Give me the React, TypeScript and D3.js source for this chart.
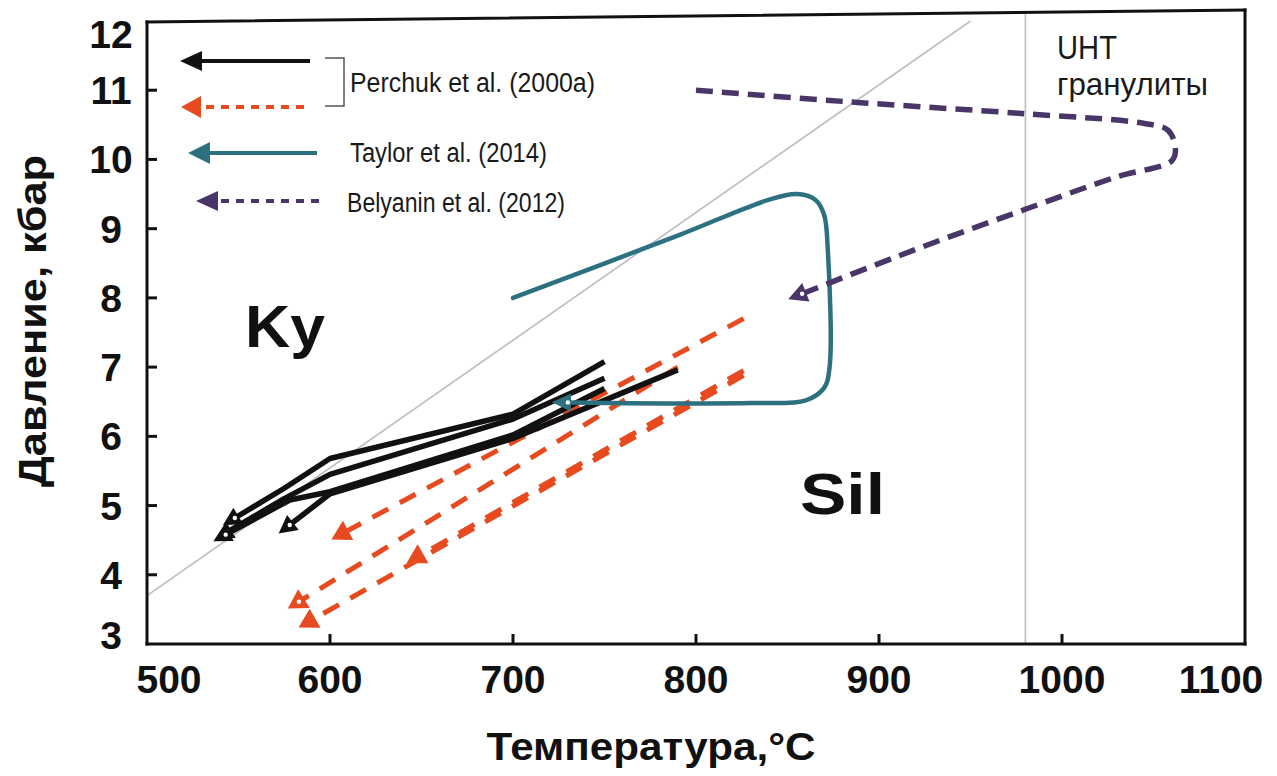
import React from "react";
import * as d3 from "d3";

type Pt = [number, number];

// axis ticks
const tempTicks = [500, 600, 700, 800, 900, 1000, 1100];
const pressureTicks = [3, 4, 5, 6, 7, 8, 9, 10, 11, 12];

// Perchuk et al. (2000a), solid black P-T paths (tail -> arrow end), [T °C, P kbar]
const perchukSolid: Pt[][] = [
  [[750, 7.08], [700, 6.32], [600, 5.68], [575, 5.25], [548, 4.82]],
  [[750, 6.84], [700, 6.25], [600, 5.45], [575, 5.1], [544, 4.62]],
  [[750, 6.69], [700, 6.02], [600, 5.2], [578, 5.08], [543, 4.58]],
  [[790, 6.96], [700, 5.97], [600, 5.17], [578, 4.72]],
];

// Perchuk et al. (2000a), dashed red paths
const perchukDashed: Pt[][] = [
  [[826, 7.7], [607, 4.6]],
  [[790, 7.0], [583, 3.61]],
  [[826, 6.95], [648, 4.26]],
  [[826, 6.88], [589, 3.33]],
];
const perchukDashedDot = [false, true, false, false];

// Taylor et al. (2014)
const taylorPath: Pt[] = [
  [700, 8.0], [790, 8.9], [840, 9.42], [855, 9.5], [865, 9.42], [870, 9.2],
  [872, 8.7], [873, 7.0], [870, 6.7], [860, 6.52], [830, 6.48], [730, 6.49],
];

// Belyanin et al. (2012)
const belyaninPath: Pt[] = [
  [800, 11.0], [890, 10.82], [980, 10.66], [1045, 10.52], [1058, 10.42],
  [1062, 10.15], [1060, 9.98], [1030, 9.75], [980, 9.28], [920, 8.7], [858, 8.06],
];

// Ky/Sil boundary and UHT limit
const kySilBoundary: Pt[] = [[500, 3.7], [950, 12]];
const uhtLimit = 980;

const legendLabels = ["Perchuk et al. (2000a)", "Taylor et al. (2014)", "Belyanin et al. (2012)"];

const BLACK = "#111111";
const RED = "#e64a1e";
const TEAL = "#2d7180";
const PURPLE = "#4a3568";
const GRAY = "#bdbdbd";
const FONT = "'Liberation Sans', Arial, Helvetica, sans-serif";

// triangle arrowhead at the end of a pixel polyline
function arrowHead(p1: Pt, p2: Pt, a: number, b: number, w: number) {
  const dx = p2[0] - p1[0];
  const dy = p2[1] - p1[1];
  const L = Math.hypot(dx, dy) || 1;
  const ux = dx / L, uy = dy / L;
  const nx = -uy, ny = ux;
  const tip = [p2[0] + ux * a, p2[1] + uy * a];
  const bx = p2[0] - ux * b, by = p2[1] - uy * b;
  return `${tip[0]},${tip[1]} ${bx + nx * w},${by + ny * w} ${bx - nx * w},${by - ny * w}`;
}

export default function App() {
  const width = 1277;
  const height = 776;

  const x = d3.scaleLinear().domain([500, 1100]).range([147, 1245]);
  const y = d3.scaleLinear().domain([3, 12]).range([644, 21]);

  const toPx = (p: Pt): Pt => [x(p[0]), y(p[1])];
  const straight = d3.line<Pt>().x(d => x(d[0])).y(d => y(d[1]));
  const smooth = d3.line<Pt>().x(d => x(d[0])).y(d => y(d[1])).curve(d3.curveCatmullRom.alpha(0.5));

  const lastTwo = (pts: Pt[]): [Pt, Pt] => [toPx(pts[pts.length - 2]), toPx(pts[pts.length - 1])];

  const x0 = x(500), x1 = x(1100), yb = y(3), yt = y(12);

  // legend rows (pixel layout)
  const legendRows = [
    { color: BLACK, dash: null, tail: 310, tip: 180, y: 61, a: 22, w: 10 },
    { color: RED, dash: "8 7", tail: 304, tip: 181, y: 107, a: 20, w: 11 },
    { color: TEAL, dash: null, tail: 317, tip: 188, y: 153, a: 22, w: 11 },
    { color: PURPLE, dash: "8 7", tail: 319, tip: 196, y: 201, a: 22, w: 10 },
  ];

  return (
    <svg
      width={width}
      height={height}
      style={{ position: "absolute", left: 0, top: 0, background: "#fff" }}
      fontFamily={FONT}
    >
      <rect width={width} height={height} fill="#fff" />

      {/* reference lines */}
      <path d={straight(kySilBoundary) ?? ""} stroke={GRAY} strokeWidth={1.6} fill="none" />
      <line x1={x(uhtLimit)} x2={x(uhtLimit)} y1={yb} y2={yt - 8} stroke={GRAY} strokeWidth={1.6} />

      {/* frame */}
      <g stroke={BLACK} strokeWidth={3} fill="none" strokeLinecap="square">
        <line x1={x0} x2={x0} y1={yb} y2={yt + 1} />
        <line x1={x0} x2={x1} y1={yb} y2={yb} />
        <line x1={x1} x2={x1} y1={yb} y2={yt - 11} />
        <line x1={x0} x2={x1} y1={yt + 1} y2={yt - 11} />
      </g>

      {/* ticks */}
      <g stroke={BLACK} strokeWidth={3}>
        {pressureTicks.slice(1, -1).map(v => (
          <line key={"yt" + v} x1={x0} x2={x0 + 10} y1={y(v)} y2={y(v)} />
        ))}
        {tempTicks.slice(1, -1).map(v => (
          <line key={"xt" + v} x1={x(v)} x2={x(v)} y1={yb} y2={yb - 10} />
        ))}
      </g>

      {/* tick labels */}
      <g fontWeight="bold" fontSize={39} fill={BLACK} textAnchor="middle">
        {pressureTicks.map(v => (
          <text key={"yl" + v} x={111} y={Math.min(Math.max(y(v), 34), 635) + 14}>
            {v}
          </text>
        ))}
        {tempTicks.map(v => (
          <text key={"xl" + v} x={Math.min(Math.max(x(v), x0 + 22), x1 - 24)} y={693}>
            {v}
          </text>
        ))}
      </g>

      {/* axis titles */}
      <text x={651} y={760} fontSize={38} fontWeight="bold" textAnchor="middle" textLength={329} lengthAdjust="spacingAndGlyphs" fill={BLACK}>
        Температура,°C
      </text>
      <text
        transform="translate(46,321) rotate(-90)"
        fontSize={38}
        fontWeight="bold"
        textAnchor="middle"
        textLength={332}
        lengthAdjust="spacingAndGlyphs"
        fill={BLACK}
      >
        Давление, кбар
      </text>

      {/* field labels */}
      <text x={245} y={347} fontSize={60} fontWeight="bold" fill={BLACK} textLength={80} lengthAdjust="spacingAndGlyphs">Ky</text>
      <text x={800} y={514} fontSize={58} fontWeight="bold" fill={BLACK} textLength={85} lengthAdjust="spacingAndGlyphs">Sil</text>
      <g fill="#1a1a1a">
        <text transform="translate(1057,59) scale(1,1.15)" fontSize={29} textLength={60} lengthAdjust="spacingAndGlyphs">UHT</text>
        <text transform="translate(1057,95) scale(1,1.15)" fontSize={28} textLength={151} lengthAdjust="spacingAndGlyphs">гранулиты</text>
      </g>

      {/* Perchuk dashed (red) */}
      {perchukDashed.map((pts, i) => {
        const [p1, p2] = lastTwo(pts);
        return (
          <g key={"r" + i}>
            <path d={straight(pts) ?? ""} stroke={RED} strokeWidth={5} strokeDasharray="18 13" fill="none" />
            <polygon points={arrowHead(p1, p2, 13, 6, 11)} fill={RED} />
            {perchukDashedDot[i] && <circle cx={p2[0]} cy={p2[1]} r={2.2} fill="#fff" />}
          </g>
        );
      })}

      {/* Perchuk solid (black) */}
      {perchukSolid.map((pts, i) => {
        const [p1, p2] = lastTwo(pts);
        return (
          <g key={"b" + i}>
            <path d={straight(pts) ?? ""} stroke={BLACK} strokeWidth={5.5} fill="none" strokeLinejoin="round" />
            <polygon points={arrowHead(p1, p2, 14, 4, 9.5)} fill={BLACK} />
            <circle cx={p2[0]} cy={p2[1]} r={2.2} fill="#fff" />
          </g>
        );
      })}

      {/* Taylor */}
      {(() => {
        const [p1, p2] = lastTwo(taylorPath);
        return (
          <g>
            <path d={smooth(taylorPath) ?? ""} stroke={TEAL} strokeWidth={4.5} fill="none" strokeLinecap="round" />
            <polygon points={arrowHead(p1, p2, 16, 3, 9)} fill={TEAL} />
            <circle cx={p2[0]} cy={p2[1]} r={2.2} fill="#fff" />
          </g>
        );
      })()}

      {/* Belyanin */}
      {(() => {
        const [p1, p2] = lastTwo(belyaninPath);
        return (
          <g>
            <path d={smooth(belyaninPath) ?? ""} stroke={PURPLE} strokeWidth={5.5} strokeDasharray="17 9" fill="none" />
            <polygon points={arrowHead(p1, p2, 15, 4, 10)} fill={PURPLE} />
            <circle cx={p2[0]} cy={p2[1]} r={2.2} fill="#fff" />
          </g>
        );
      })()}

      {/* legend */}
      {legendRows.map((r, i) => (
        <g key={"lg" + i}>
          <line
            x1={r.tail}
            x2={r.tip + r.a - 2}
            y1={r.y}
            y2={r.y}
            stroke={r.color}
            strokeWidth={4}
            strokeDasharray={r.dash ?? undefined}
          />
          <polygon points={arrowHead([r.tail, r.y], [r.tip + r.a - 2, r.y], r.a - 2, 2, r.w)} fill={r.color} />
        </g>
      ))}
      <path d="M325,58 H344 V106 H325" stroke="#555" strokeWidth={1.5} fill="none" />
      <g fill="#1a1a1a" fontSize={23.5}>
        <text transform="translate(350,92) scale(1,1.19)" textLength={245} lengthAdjust="spacingAndGlyphs">{legendLabels[0]}</text>
        <text transform="translate(350,162) scale(1,1.19)" textLength={197} lengthAdjust="spacingAndGlyphs">{legendLabels[1]}</text>
        <text transform="translate(347,212) scale(1,1.19)" textLength={218} lengthAdjust="spacingAndGlyphs">{legendLabels[2]}</text>
      </g>
    </svg>
  );
}
